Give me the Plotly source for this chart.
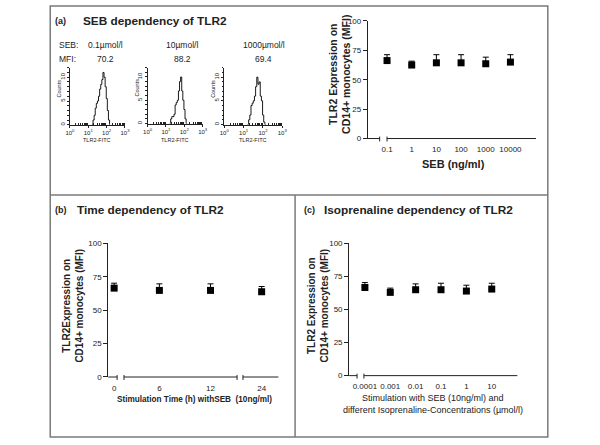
import plotly.graph_objects as go

W, H = 600, 445
FONT = "Liberation Sans, Arial, sans-serif"
INK = "#222222"

# ---------------- data ----------------
# (a) left: FACS histograms (TLR2-FITC intensity bins, counts)
fitc_bins = [15.8, 18.2, 20.9, 24.0, 27.5, 31.6, 36.3, 41.7, 47.9, 55.0,
             63.1, 72.4, 83.2, 95.5, 109.6, 125.9, 144.5]
counts_01 = [0, 1, 2, 3.5, 4.5, 5, 6, 7.5, 8.5, 9.5, 11, 10, 8, 5.5, 3, 1, 0]
counts_10 = [0, 1, 1.5, 1.5, 2, 4, 4.5, 5, 7, 9, 10, 7, 5, 3, 1, 0, 0]
counts_1000 = [0, 1, 2, 4, 4.5, 5, 6, 8, 10, 8.5, 9, 6, 5, 2, 0.5, 0, 0]
hist_seb = ["0.1µmol/l", "10µmol/l", "1000µmol/l"]
hist_mfi = ["70.2", "88.2", "69.4"]

# (a) right: SEB dependency
seb_labels = ["0.1", "1", "10", "100", "1000", "10000"]
seb_mean = [66.3, 62.5, 64.4, 64.4, 63.6, 65.0]
seb_err = [5.0, 3.3, 6.9, 6.9, 5.6, 6.3]

# (b) time dependency
time_h = [0, 6, 12, 24]
time_mean = [66.5, 64.8, 64.8, 63.8]
time_err = [3.7, 4.9, 4.9, 3.9]

# (c) isoprenaline dependency
iso_labels = ["0.0001", "0.001", "0.01", "0.1", "1", "10"]
iso_mean = [66.5, 62.8, 64.8, 64.8, 63.8, 65.3]
iso_err = [3.7, 3.2, 4.4, 4.9, 4.4, 4.4]

y_ticks = [0, 25, 50, 75, 100]


def fx(p):
    return p / W


def fy(p):
    return 1 - p / H


fig = go.Figure()
shapes = []
annotations = []


def hline(x0, x1, y, color=INK, width=1):
    shapes.append(dict(type="line", xref="paper", yref="paper",
                       x0=fx(x0), x1=fx(x1), y0=fy(y), y1=fy(y),
                       line=dict(color=color, width=width)))


def vline(x, y0, y1, color=INK, width=1):
    shapes.append(dict(type="line", xref="paper", yref="paper",
                       x0=fx(x), x1=fx(x), y0=fy(y0), y1=fy(y1),
                       line=dict(color=color, width=width)))


def text(x, y, s, size=9, bold=False, angle=0, color=INK, xanchor="center"):
    if bold:
        s = "<b>" + s + "</b>"
    annotations.append(dict(x=fx(x), y=fy(y), xref="paper", yref="paper", text=s,
                            showarrow=False, textangle=angle, xanchor=xanchor, yanchor="middle",
                            font=dict(family=FONT, size=size, color=color)))


# ---------------- panel frames ----------------
FRAME = "#7a7a7a"
shapes.append(dict(type="rect", xref="paper", yref="paper", x0=fx(46), x1=fx(552),
                   y0=fy(442), y1=fy(2), line=dict(color=FRAME, width=1.5)))
hline(46, 552, 195, FRAME, 1.5)
vline(295, 195, 442, FRAME, 1.5)

# ---------------- titles ----------------
text(49, 17, "(a)", 9, True, xanchor="left")
text(77, 17, "SEB dependency of TLR2", 11.8, True, xanchor="left")
text(49, 210, "(b)", 9, True, xanchor="left")
text(71, 210, "Time dependency of TLR2", 11.8, True, xanchor="left")
text(302, 210, "(c)", 9, True, xanchor="left")
text(322, 210, "Isoprenaline dependency of TLR2", 11.8, True, xanchor="left")

# ---------------- common axis style ----------------
yax_main = dict(range=[0, 100], tickvals=y_ticks, ticks="outside", ticklen=4,
                tickwidth=1, tickcolor=INK, showline=True, linecolor=INK, linewidth=1,
                showgrid=False, zeroline=False, tickfont=dict(family=FONT, size=8, color=INK))
xcat = dict(type="category", showline=False, showgrid=False, zeroline=False,
            ticks="outside", ticklen=3, tickcolor="rgba(0,0,0,0)",
            tickfont=dict(family=FONT, size=8, color=INK))
marker = dict(symbol="square", size=7, color="black")


def err(a):
    return dict(type="data", symmetric=False, array=a, arrayminus=[0] * len(a),
                color="black", thickness=1, width=3)


# ---------------- (a) right: SEB ----------------
A_y0, A_y1 = 17.3, 137.3
A_first, A_step, A_left, A_right = 388.5, 25.1, 369, 540
fig.add_trace(go.Scatter(x=seb_labels, y=seb_mean, error_y=err(seb_err), mode="markers",
                         marker=marker, xaxis="x", yaxis="y", cliponaxis=False, showlegend=False))
layout_axes = {}
layout_axes["xaxis"] = dict(xcat, domain=[fx(A_left), fx(A_right)], anchor="y",
                            range=[-(A_first - A_left) / A_step, (A_right - A_first) / A_step],
                            categoryorder="array", categoryarray=seb_labels)
layout_axes["yaxis"] = dict(yax_main, domain=[fy(A_y1), fy(A_y0)], anchor="x")
hline(A_left, 381, A_y1)
vline(381, A_y1 - 2, A_y1 + 3)
hline(A_first, A_right, A_y1)
vline(A_first, A_y1 - 2, A_y1 + 3)
text(340, 72, "TLR2 Expression on<br>CD14+ monocytes (MFI)", 10.5, True, angle=-90)
text(456, 163, "SEB (ng/ml)", 11, True)

# ---------------- (c) isoprenaline ----------------
C_y0, C_y1 = 244, 379.3
C_first, C_step, C_left, C_right = 366, 25.8, 350, 521
fig.add_trace(go.Scatter(x=iso_labels, y=iso_mean, error_y=err(iso_err), mode="markers",
                         marker=marker, xaxis="x2", yaxis="y2", cliponaxis=False, showlegend=False))
layout_axes["xaxis2"] = dict(xcat, domain=[fx(C_left), fx(C_right)], anchor="y2",
                             range=[-(C_first - C_left) / C_step, (C_right - C_first) / C_step],
                             categoryorder="array", categoryarray=iso_labels)
layout_axes["yaxis2"] = dict(yax_main, domain=[fy(C_y1), fy(C_y0)], anchor="x2")
hline(C_left, 358, C_y1)
vline(358, C_y1 - 2, C_y1 + 3)
hline(C_first - 1, C_right, C_y1)
vline(C_first - 1, C_y1 - 2, C_y1 + 3)
text(318, 308, "TLR2 Expression on<br>CD14+ monocytes (MFI)", 10, True, angle=-90)
text(435, 402, "Stimulation with SEB (10ng/ml) and", 9)
text(435, 414, "different Isoprenaline-Concentrations (µmol/l)", 9)

# ---------------- (b) time, broken x axis ----------------
B_y0, B_y1 = 244.3, 380.7
pxh = 8.667  # pixels per hour
segments = [  # (pixel left, pixel right, value, pixel of value)
    (105, 114, 0, 111),
    (121, 236, 6, 157),
    (242, 278, 24, 261),
]
yB = dict(yax_main, domain=[fy(B_y1), fy(B_y0)], anchor="x3")
layout_axes["yaxis3"] = yB
for i, (p0, p1, v, pv) in enumerate(segments):
    ax = "x%d" % (3 + i)
    r0 = v - (pv - p0) / pxh
    r1 = v + (p1 - pv) / pxh
    sel = [k for k, t in enumerate(time_h) if r0 <= t <= r1]
    fig.add_trace(go.Scatter(x=[time_h[k] for k in sel], y=[time_mean[k] for k in sel],
                             error_y=err([time_err[k] for k in sel]), mode="markers",
                             marker=marker, xaxis=ax, yaxis="y3", cliponaxis=False,
                             showlegend=False))
    layout_axes["xaxis%d" % (3 + i)] = dict(
        domain=[fx(p0), fx(p1)], anchor="y3", range=[r0, r1], showline=False,
        showgrid=False, zeroline=False, tickvals=[time_h[k] for k in sel],
        ticks="outside", ticklen=3, tickcolor="rgba(0,0,0,0)",
        tickfont=dict(family=FONT, size=8, color=INK))
    hline(p0, p1, B_y1)
    if i == 0:
        vline(p1, B_y1 - 2, B_y1 + 3)
    elif i == 1:
        vline(p0, B_y1 - 2, B_y1 + 3)
        vline(p1, B_y1 - 2, B_y1 + 3)
    else:
        vline(p0, B_y1 - 2, B_y1 + 3)
text(69, 308, "TLR2Expression on<br>CD14+ monocytes (MFI)", 10, True, angle=-90)
text(193, 404, "Stimulation Time (h) withSEB  (10ng/ml)", 8.2, True)

# ---------------- (a) left: histograms ----------------
hist_layout = [  # x-axis left/right px, y-axis top/bottom px, label centre
    (66, 122, 65, 123.3, 102),
    (145, 201, 65, 122, 180),
    (223, 282, 65, 123, 263),
]
hist_counts = [counts_01, counts_10, counts_1000]
minor_x = [2, 3, 4, 5, 6, 7, 8, 9, 20, 30, 40, 50, 60, 70, 80, 90, 200, 300, 400, 500, 600, 700, 800, 900]
for i, ((xl, xr, yt, yb, lc), cnt) in enumerate(zip(hist_layout, hist_counts)):
    n = 6 + i
    fig.add_trace(go.Scatter(x=fitc_bins, y=cnt, mode="lines",
                             line=dict(color="black", width=0.9, shape="hv"),
                             xaxis="x%d" % n, yaxis="y%d" % n, showlegend=False))
    layout_axes["xaxis%d" % n] = dict(
        type="log", domain=[fx(xl), fx(xr)], anchor="y%d" % n, range=[0, 3],
        tickvals=[1, 10, 100, 1000],
        ticktext=["10<sup>0</sup>", "10<sup>1</sup>", "10<sup>2</sup>", "10<sup>3</sup>"],
        ticks="outside", ticklen=2, tickcolor=INK, showline=True, linecolor=INK, linewidth=1,
        showgrid=False, zeroline=False, tickfont=dict(family=FONT, size=6, color=INK),
        minor=dict(tickvals=minor_x, ticks="inside", ticklen=2, tickcolor=INK, showgrid=False))
    layout_axes["yaxis%d" % n] = dict(
        domain=[fy(yb), fy(yt)], anchor="x%d" % n, range=[0, 12],
        tickvals=[0, 5, 10], ticks="outside", ticklen=2, tickcolor=INK, tickangle=-90,
        showline=True, linecolor=INK, linewidth=1, showgrid=False, zeroline=False,
        tickfont=dict(family=FONT, size=6, color=INK),
        minor=dict(dtick=1, ticks="outside", ticklen=1.5, tickcolor=INK, showgrid=False))
    text(xl - 11, (yt + yb) / 2 - 8, "Counts", 5.5, angle=-90)
    text((xl + xr) / 2, 139, "TLR2-FITC", 5.5)
    text(lc, 42, hist_seb[i], 8.5)
    text(lc, 56, hist_mfi[i], 8.5)
text(53, 42, "SEB:", 8.5, xanchor="left")
text(53, 56, "MFI:", 8.5, xanchor="left")

fig.update_layout(width=W, height=H, margin=dict(l=0, r=0, t=0, b=0),
                  paper_bgcolor="white", plot_bgcolor="rgba(0,0,0,0)",
                  shapes=shapes, annotations=annotations, showlegend=False,
                  **layout_axes)

fig.write_html("out.html", config={"displayModeBar": False},
               post_script="document.body.style.margin='0';")
